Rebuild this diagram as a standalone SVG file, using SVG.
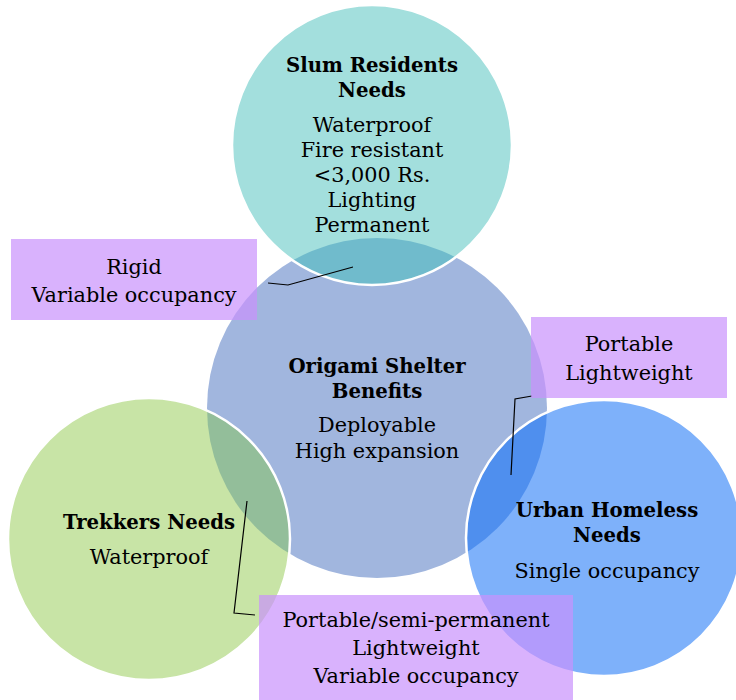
<svg xmlns="http://www.w3.org/2000/svg" width="736" height="700" viewBox="0 0 736 700">
<style>
text{font-family:"DejaVu Serif","Liberation Serif",serif;font-size:20.8px;fill:#000;text-anchor:middle}
.b{font-weight:bold;font-size:19.7px}
.edge{fill:none;stroke:#fff;stroke-width:2.5}
.box{fill:#c992fc;fill-opacity:0.7}
.conn{fill:none;stroke:#000;stroke-width:1.2}
</style>
<defs>
<clipPath id="cc"><circle cx="377" cy="408" r="170"/></clipPath>
</defs>
<g id="origami">
<circle cx="377" cy="408" r="170" fill="#a1b6de"/>
</g>
<g id="slum">
<circle cx="372" cy="145" r="140" fill="#a3dfdd"/>
<circle cx="372" cy="145" r="140" fill="#70bbcc" clip-path="url(#cc)"/>
<circle cx="372" cy="145" r="140" class="edge"/>
<text x="372" y="72" class="b">Slum Residents</text>
<text x="372" y="97" class="b">Needs</text>
<text x="372" y="132">Waterproof</text>
<text x="372" y="157">Fire resistant</text>
<text x="372" y="182">&lt;3,000 Rs.</text>
<text x="372" y="207">Lighting</text>
<text x="372" y="232">Permanent</text>
</g>
<g id="trekkers">
<circle cx="149" cy="539" r="141" fill="#c8e4a6"/>
<circle cx="149" cy="539" r="141" fill="#93be9a" clip-path="url(#cc)"/>
<circle cx="149" cy="539" r="141" class="edge"/>
<text x="149" y="529" class="b">Trekkers Needs</text>
<text x="149" y="564">Waterproof</text>
</g>
<g id="urban">
<circle cx="604" cy="538" r="138" fill="#7eb1fa"/>
<circle cx="604" cy="538" r="138" fill="#4f8fee" clip-path="url(#cc)"/>
<circle cx="604" cy="538" r="138" class="edge"/>
<text x="607" y="517" class="b">Urban Homeless</text>
<text x="607" y="542" class="b">Needs</text>
<text x="607" y="578">Single occupancy</text>
</g>
<g id="origami-text">
<text x="377" y="373" class="b">Origami Shelter</text>
<text x="377" y="398" class="b">Benefits</text>
<text x="377" y="432">Deployable</text>
<text x="377" y="458">High expansion</text>
</g>
<g id="connectors">
<polyline class="conn" points="268,283 288,285 353,267"/>
<polyline class="conn" points="532,396 515,399 511,475"/>
<polyline class="conn" points="255,615 234,613 247,501"/>
</g>
<g id="callout-rigid">
<rect x="11" y="239" width="246" height="81" class="box"/>
<text x="134" y="274">Rigid</text>
<text x="134" y="302">Variable occupancy</text>
</g>
<g id="callout-portable">
<rect x="531" y="317" width="196" height="81" class="box"/>
<text x="629" y="351">Portable</text>
<text x="629" y="380">Lightweight</text>
</g>
<g id="callout-bottom">
<rect x="259" y="595" width="314" height="105" class="box"/>
<text x="416" y="627">Portable/semi-permanent</text>
<text x="416" y="655">Lightweight</text>
<text x="416" y="683">Variable occupancy</text>
</g>
</svg>
